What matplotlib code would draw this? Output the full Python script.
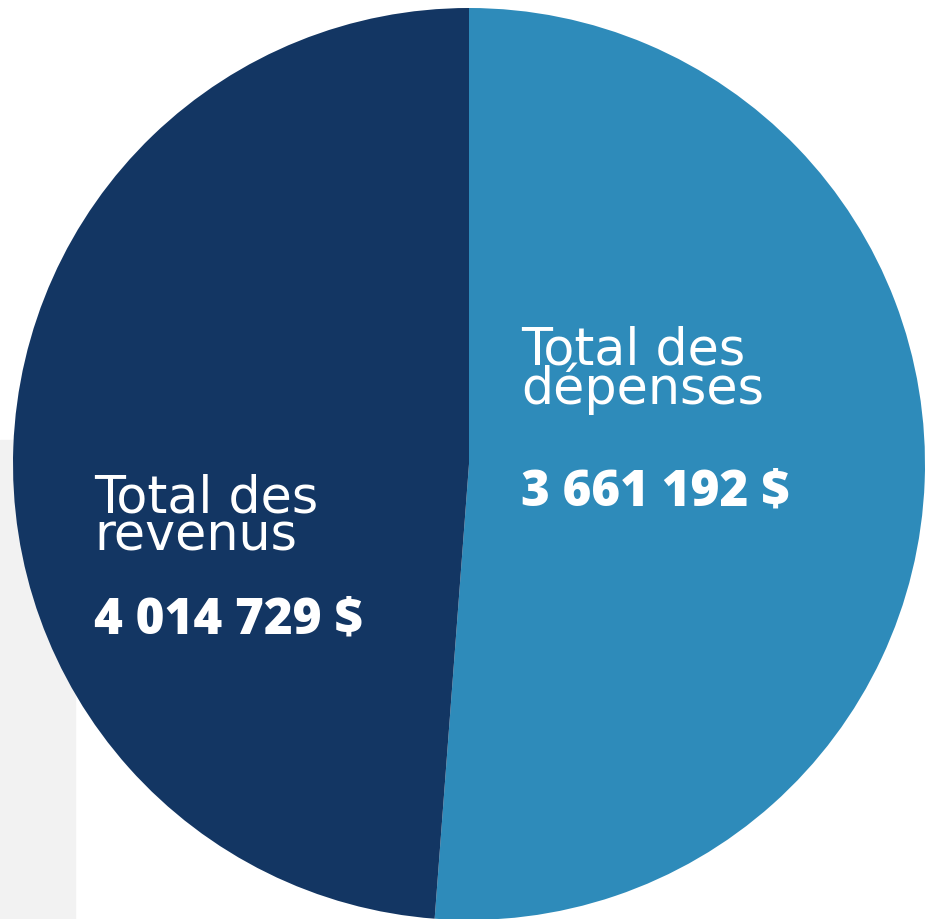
import matplotlib.pyplot as plt
from matplotlib.patches import Rectangle

# labels and amounts shown on the chart
labels = ["Total des\ndépenses", "Total des\nrevenus"]
amounts = ["3 661 192 $", "4 014 729 $"]
# slice shares as drawn in the picture (percent, clockwise from 12 o'clock)
shares = [51.2, 48.8]
colors = ["#2E8BBA", "#133663"]

W, H = 934, 919

fig = plt.figure(figsize=(W / 100, H / 100), dpi=100)
ax = fig.add_axes([0, 0, 1, 1])

# light grey block behind the lower left of the pie
ax.add_patch(Rectangle((0, 0), 75, H - 440, color="#F2F2F2", zorder=0))

ax.pie(shares, colors=colors, startangle=90, counterclock=False,
       center=(469, H - 464), radius=456, frame=True,
       wedgeprops=dict(linewidth=0))

ax.set_xlim(0, W)
ax.set_ylim(0, H)
ax.set_aspect("equal")
ax.axis("off")

# text blocks: x, last title-line baseline, number baseline (pixel rows from top)
label_pos = [(521, 404, 505), (94, 550, 633)]
for (x, y, yn), lab, amt in zip(label_pos, labels, amounts):
    ax.text(x, H - y, lab, color="white", fontsize=36.5, family="DejaVu Sans",
            fontweight="normal", linespacing=0.69, va="baseline", ha="left",
            zorder=5)
    ax.text(x, H - yn, amt, color="white", fontsize=35.5, family="Open Sans",
            fontweight="heavy", va="baseline", ha="left", zorder=5)

fig.savefig("out.png", dpi=100)
